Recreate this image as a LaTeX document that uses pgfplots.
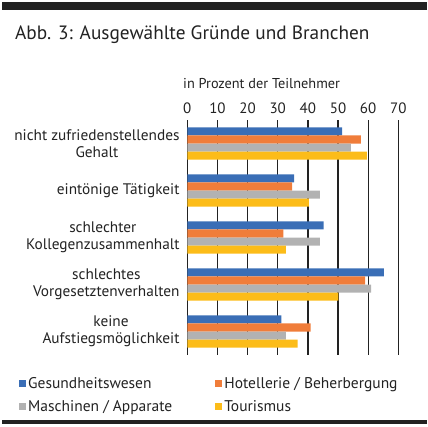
\documentclass[border=0pt]{standalone}
\usepackage{fontspec}
\setmainfont{PT Sans}
\usepackage{pgfplots}
\pgfplotsset{compat=1.18}

\definecolor{cBlue}{HTML}{3A6EB6}
\definecolor{cOrange}{HTML}{F07D3A}
\definecolor{cGray}{HTML}{B2B2B2}
\definecolor{cYellow}{HTML}{FCBC19}
\definecolor{cText}{HTML}{222222}

\begin{document}
\begin{tikzpicture}[x=1pt,y=1pt]
  \useasboundingbox (0,0) rectangle (428,-426);
  % Rahmenbalken oben und unten
  \fill[cText] (1.7,-1.7) rectangle (427,-10);
  \fill[cText] (1.7,-420) rectangle (427,-424);
  \node[anchor=base west, inner sep=0, text=cText,
        font=\fontsize{19.3}{21}\selectfont] at (15,-39.3)
        {Abb. 3: Ausgewählte Gründe und Branchen};
  \node[anchor=west, inner sep=0, text=cText,
        font=\fontsize{14.3}{16}\selectfont] at (183,-84)
        {in Prozent der Teilnehmer};

  \begin{axis}[
      at={(187.3pt,-355pt)}, anchor=south west,
      scale only axis, width=211pt, height=235pt,
      xbar, bar width=8.1pt,
      xmin=0, xmax=70, xtick={0,10,...,70},
      ymin=-0.5, ymax=4.5, y dir=reverse,
      ytick={0,1,2,3,4},
      yticklabels={{nicht zufriedenstellendes\\Gehalt},
                   {eintönige Tätigkeit},
                   {schlechter\\Kollegenzusammenhalt},
                   {schlechtes\\Vorgesetztenverhalten},
                   {keine\\Aufstiegsmöglichkeit}},
      yticklabel style={align=center, text=cText,
                        font=\fontsize{15.3}{17}\selectfont},
      xticklabel pos=upper,
      xticklabel style={text=cText, yshift=3pt,
                        font=\fontsize{15}{17}\selectfont},
      /pgf/number format/assume math mode=true,
      axis line style={draw=none},
      tick style={draw=none},
      xmajorgrids, major grid style={cText, line width=1.3pt},
      legend columns=2,
      legend cell align=left,
      legend image code/.code={\fill[#1] (0pt,-3.5pt) rectangle (7pt,3.5pt);},
      legend style={at={(-0.7976,-0.085)}, anchor=north west, draw=none,
                    fill=none, inner sep=0pt, row sep=7pt,
                    font=\fontsize{15.5}{17}\selectfont, text=cText,
                    /tikz/every even column/.append style={column sep=41pt}},
    ]
    \addplot[draw=none, fill=cBlue, bar shift=12.15pt] coordinates
      {(51.4,0) (35.4,1) (45.2,2) (65.2,3) (31.2,4)};
    \addlegendentry{Gesundheitswesen}
    \addplot[draw=none, fill=cOrange, bar shift=4.05pt] coordinates
      {(57.6,0) (34.8,1) (31.9,2) (59.0,3) (40.9,4)};
    \addlegendentry{Hotellerie / Beherbergung}
    \addplot[draw=none, fill=cGray, bar shift=-4.05pt] coordinates
      {(54.3,0) (44.0,1) (44.0,2) (61.0,3) (32.7,4)};
    \addlegendentry{Maschinen / Apparate}
    \addplot[draw=none, fill=cYellow, bar shift=-12.15pt] coordinates
      {(59.6,0) (40.3,1) (32.7,2) (50.1,3) (36.6,4)};
    \addlegendentry{Tourismus}
  \end{axis}
\end{tikzpicture}
\end{document}
